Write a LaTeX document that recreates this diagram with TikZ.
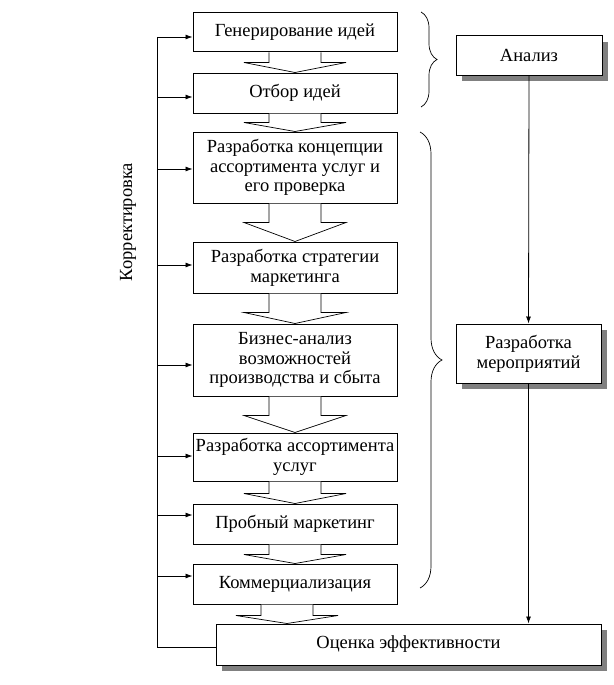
\documentclass[tikz,border=0pt]{standalone}
\usepackage{fontspec}
\setmainfont{Liberation Serif}
\usetikzlibrary{calc,shadows,decorations.pathreplacing,arrows.meta}
\tikzset{
  lbox/.style={draw, line width=1pt, fill=white, minimum width=204pt, inner sep=1pt, align=center},
  sbox/.style={draw, line width=1pt, fill=white, inner sep=1pt, align=center,
    drop shadow={shadow xshift=6pt, shadow yshift=-6pt, fill=black!50, opacity=1}},
  arr/.style={line width=0.8pt, -{Latex[length=7pt,width=5pt]}},
  feed/.style={line width=0.8pt},
  blkarrow/.style={line width=0.7pt, fill=white},
  bracestyle/.style={line width=0.7pt, decorate}
}
\newcommand\blk[4]{%
  \path (#1.south) ++(#4,0) coordinate (s);
  \path (s |- #2.north) coordinate (t);
  \draw[blkarrow] ($(s)+(-26,0)$) -- ($(s)+(-26,#3)$) -- ($(s)+(-51,#3)$) -- (t)
     -- ($(s)+(51,#3)$) -- ($(s)+(26,#3)$) -- ($(s)+(26,0)$);
}
\begin{document}
\begin{tikzpicture}[x=1pt,y=-1pt,font=\fontsize{18.5}{19.8}\selectfont]
\useasboundingbox (0,0) rectangle (613,685);
% left column
\node[lbox, minimum height=39pt] (b1) at (295,32.5) {Генерирование идей};
\node[lbox, minimum height=40pt] (b2) at (295,93) {Отбор идей};
\node[lbox, minimum height=71pt] (b3) at (295,167.5) {Разработка концепции\\ассортимента услуг и\\его проверка};
\node[lbox, minimum height=51pt] (b4) at (295,267.5) {Разработка стратегии\\маркетинга};
\node[lbox, minimum height=72pt] (b5) at (295,360) {Бизнес-анализ\\возможностей\\производства и сбыта};
\node[lbox, minimum height=48pt] (b6) at (295,457) {Разработка ассортимента\\услуг};
\node[lbox, minimum height=40pt] (b7) at (295,524) {Пробный маркетинг};
\node[lbox, minimum height=40pt] (b8) at (295,584) {Коммерциализация};
\node[sbox, minimum width=385pt, minimum height=41pt] (b9) at (408.5,644.5) {Оценка эффективности};
% right column
\node[sbox, minimum width=146pt, minimum height=39pt] (a1) at (529,55.5) {Анализ};
\node[sbox, minimum width=145pt, minimum height=59pt] (a2) at (528.5,353.5) {Разработка\\мероприятий};
% block arrows
\blk{b1}{b2}{10}{0}
\blk{b2}{b3}{9}{0}
\blk{b3}{b4}{19}{0}
\blk{b4}{b5}{19}{0}
\blk{b5}{b6}{19}{0}
\blk{b6}{b7}{12}{0}
\blk{b7}{b8}{10}{0}
\blk{b8}{b9}{11}{-8}
% right connectors
\draw[arr] (a1.south) -- (a2.north);
\draw[arr] (a2.south) -- (a2.south |- b9.north);
% feedback
\coordinate (k1) at (157,37);
\coordinate (k2) at (157,97);
\coordinate (k3) at (157,169);
\coordinate (k4) at (157,265);
\coordinate (k5) at (157,365);
\coordinate (k6) at (157,456);
\coordinate (k7) at (157,515);
\coordinate (k8) at (157,576);
\coordinate (kb) at (157,647);
\draw[feed] (k1) -- (kb) -- (kb -| b9.west);
\foreach \i in {1,...,8} {\draw[arr] (k\i) -- (k\i -| b\i.west);}
\node[rotate=90] (kt) at (128,222) {Корректировка};
% braces
\draw[bracestyle, decoration={brace, amplitude=16pt}] (421,12) -- (421,107);
\draw[bracestyle, decoration={brace, amplitude=22pt}] (420,132) -- (420,588);
\end{tikzpicture}
\end{document}
